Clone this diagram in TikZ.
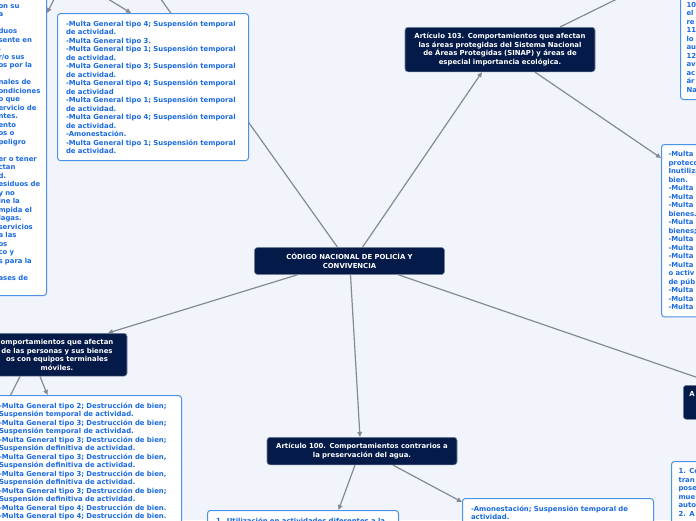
\documentclass[tikz,border=0pt]{standalone}
\usepackage{fontspec}
\setmainfont{DejaVu Sans}
\usetikzlibrary{arrows.meta}

\pgfdeclarelayer{canvas}
\pgfdeclarelayer{links}
\pgfsetlayers{canvas,links,main}

\definecolor{paper}{RGB}{241,244,251}
\definecolor{navy}{RGB}{4,26,72}
\definecolor{leafblue}{RGB}{26,106,224}
\definecolor{leafedge}{RGB}{74,146,230}
\definecolor{linkgrey}{RGB}{132,138,148}

\tikzset{
  mapfont/.style={font=\fontsize{6.9}{8.5}\selectfont\bfseries},
  topic/.style={mapfont, fill=navy, draw=navy!55!white, line width=0.6pt,
    rounded corners=3pt, text=white, align=center, inner xsep=6pt, inner ysep=6pt},
  leaf/.style={mapfont, fill=white, draw=leafedge, line width=1pt,
    rounded corners=3pt, text=leafblue, align=left, text width=174pt,
    inner xsep=8.5pt, inner ysep=7pt},
  link/.style={draw=linkgrey, line width=1.2pt, -{Triangle[length=5pt,width=4.5pt]}},
}

\begin{document}
\begin{tikzpicture}[x=1pt, y=-1pt]
\useasboundingbox (0,0) rectangle (696,520);
\begin{pgfonlayer}{canvas}
\fill[paper] (0,0) rectangle (696,520);
\end{pgfonlayer}

% main topics
\node[topic, text width=178pt] (code) at (349.5,261)
  {CÓDIGO NACIONAL DE POLICÍA Y\\CONVIVENCIA};
\node[topic, text width=178pt, anchor=north] (art103) at (500,27)
  {Artículo 103. Comportamientos que afectan\\las áreas protegidas del Sistema Nacional\\de Áreas Protegidas (SINAP) y áreas de\\especial importancia ecológica.};
\node[topic, text width=178pt, anchor=north] (art100) at (362,437)
  {Artículo 100. Comportamientos contrarios a\\la preservación del agua.};
\node[topic, text width=128pt, anchor=north] (movil) at (57,333)
  {omportamientos que afectan\\de las personas y sus bienes\\os con equipos terminales\\móviles.};
\node[topic, text width=60pt, align=left, anchor=north west] (rtopic) at (683,385)
  {A\\ \mbox{}\\ \mbox{}};

% sanctions and items
\node[leaf, anchor=south east, text width=39.5pt] (box1) at (47,296)
  {\mbox{}\\ on~su\\ a\\ \mbox{}\\ duos\\ sente~en\\ .\\ r/o~sus\\ os~por~la\\ \mbox{}\\ nales~de\\ ondiciones\\ o~que\\ ervicio~de\\ ntes.\\ ento\\ os~o\\ peligro\\ \mbox{}\\ er~o~tener\\ ctan\\ d.\\ esiduos~de\\ y~no\\ ine~la\\ mpida~el\\ lagas.\\ servicios\\ a~las\\ os\\ co~y\\ s~para~la\\ \mbox{}\\ ases~de\\ \mbox{}};
\node[leaf, anchor=north west] (box2) at (57,13)
  {-Multa General tipo 4; Suspensión temporal\\de actividad.\\-Multa General tipo 3.\\-Multa General tipo 1; Suspensión temporal\\de actividad.\\-Multa General tipo 3; Suspensión temporal\\de actividad.\\-Multa General tipo 4; Suspensión temporal\\de actividad\\-Multa General tipo 1; Suspensión temporal\\de actividad.\\-Multa General tipo 4; Suspensión temporal\\de actividad.\\-Amonestación.\\-Multa General tipo 1; Suspensión temporal\\de actividad.};
\node[leaf, anchor=south west, text width=120pt, inner xsep=6pt] (trbox) at (680,100)
  {\mbox{}\\ \mbox{}\\ 10\\ el\\ re\\ 11\\ lo\\ au\\ 12\\ av\\ ac\\ ár\\ Na};
\node[leaf, anchor=north west, text width=120pt, inner xsep=7pt] (rbox) at (661,144)
  {-Multa\\ protecc\\ Inutiliza\\ bien.\\ -Multa\\ -Multa\\ -Multa\\ bienes.\\ -Multa\\ bienes;\\ -Multa\\ -Multa\\ -Multa\\ -Multa\\ o~activ\\ de~púb\\ -Multa\\ -Multa\\ -Multa};
\node[leaf, anchor=north east] (blbox) at (182,395)
  {-Multa General tipo 2; Destrucción de bien;\\Suspensión temporal de actividad.\\-Multa General tipo 3; Destrucción de bien;\\Suspensión temporal de actividad.\\-Multa General tipo 3; Destrucción de bien;\\Suspensión definitiva de actividad.\\-Multa General tipo 3; Destrucción de bien,\\Suspensión definitiva de actividad.\\-Multa General tipo 3; Destrucción de bien,\\Suspensión definitiva de actividad.\\-Multa General tipo 3; Destrucción de bien;\\Suspensión definitiva de actividad.\\-Multa General tipo 4; Destrucción de bien.\\-Multa General tipo 4; Destrucción de bien.\\ \mbox{}\\ \mbox{}};
\node[leaf, anchor=north west] (bcbox) at (207,510)
  {1. Utilización en actividades diferentes a la\\ \mbox{}};
\node[leaf, anchor=north west] (brbox) at (462,498)
  {-Amonestación; Suspensión temporal de\\actividad.};
\node[leaf, anchor=north west, text width=60pt, inner xsep=7pt] (sebox) at (671,461)
  {1. Co\\ tran\\ pose\\ mue\\ auto\\ 2. A\\ \mbox{}\\ \mbox{}};

% topics outside the frame
\coordinate (nwTopic) at (67,-26);
\coordinate (nwEdge) at (133,-40);
\coordinate (neTopic) at (680,-32);
\coordinate (swTopic) at (-12,440);

\begin{pgfonlayer}{links}
\draw[link] ([xshift=-12pt]code.north) -- (nwEdge);
\draw[link] ([xshift=13pt]code.north) -- ([xshift=-18pt]art103.south);
\draw[link] ([xshift=-52pt]code.south) -- ([xshift=51pt]movil.north);
\draw[link] ([xshift=1pt]code.south) -- ([xshift=-2pt]art100.north);
\draw[link] ([xshift=49pt]code.south) -- ([xshift=36pt]rtopic.north west);

\draw[link] (nwTopic) -- (box1.east |- box2.north);
\draw[link] (nwTopic) -- ([xshift=-22pt]box2.north);

\draw[link] ([xshift=60pt]art103.north) -- (neTopic);
\draw[link] ([xshift=35pt]art103.south) -- ([yshift=-14pt]rbox.north west);

\draw[link] ([xshift=-7pt]art100.south) -- ([xshift=35.5pt]bcbox.north);
\draw[link] ([xshift=31pt]art100.south) -- ([yshift=-4pt]brbox.north west);

\draw[link] ([xshift=-17pt]movil.south) -- ([xshift=-38.5pt]blbox.north);
\draw[link] ([xshift=-37pt]movil.south) -- (swTopic);
\end{pgfonlayer}
\end{tikzpicture}
\end{document}
